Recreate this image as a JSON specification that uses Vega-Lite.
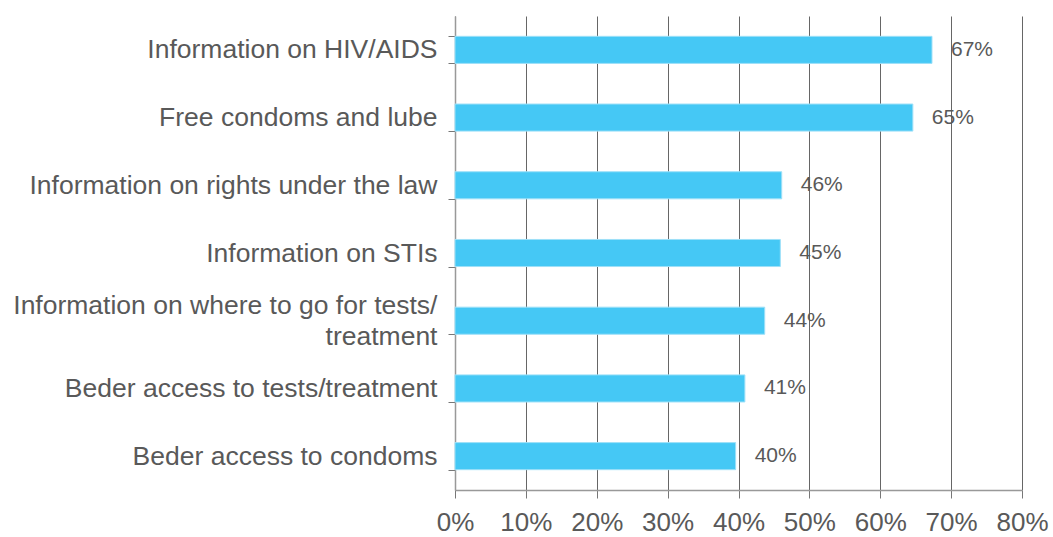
{
  "$schema": "https://vega.github.io/schema/vega-lite/v6.json",
  "width": 567,
  "height": 474,
  "autosize": {"type": "none"},
  "padding": {"left": 455, "top": 16, "right": 31, "bottom": 47},
  "background": "white",
  "config": {"view": {"stroke": null}, "font": "Liberation Sans"},
  "data": {
    "values": [
      {"item": "Information on HIV/AIDS", "value": 67.3, "label": "67%"},
      {"item": "Free condoms and lube", "value": 64.6, "label": "65%"},
      {"item": "Information on rights under the law", "value": 46.1, "label": "46%"},
      {"item": "Information on STIs", "value": 45.9, "label": "45%"},
      {"item": "Information on where to go for tests/treatment", "value": 43.7, "label": "44%"},
      {"item": "Beder access to tests/treatment", "value": 40.9, "label": "41%"},
      {"item": "Beder access to condoms", "value": 39.6, "label": "40%"}
    ]
  },
  "encoding": {
    "y": {
      "field": "item",
      "type": "nominal",
      "sort": null,
      "title": null,
      "scale": {"paddingInner": 0.6, "paddingOuter": 0.3},
      "axis": {
        "domainColor": "#999999",
        "domainWidth": 1.5,
        "tickColor": "#777777",
        "tickSize": 7,
        "tickBand": "extent",
        "labelFontSize": 26.5,
        "labelColor": "#595959",
        "labelPadding": 11,
        "labelLimit": 600,
        "labelLineHeight": 31,
        "labelOffset": {"condition": {"test": "datum.value == 'Information on where to go for tests/treatment'", "value": -15.5}, "value": 0},
        "labelExpr": "datum.value == 'Information on where to go for tests/treatment' ? ['Information on where to go for tests/', 'treatment'] : datum.label",
        "grid": false
      }
    },
    "x": {
      "field": "value",
      "type": "quantitative",
      "title": null,
      "scale": {"domain": [0, 80], "nice": false},
      "axis": {
        "values": [0, 10, 20, 30, 40, 50, 60, 70, 80],
        "labelExpr": "datum.value + '%'",
        "grid": true,
        "gridColor": "#666666",
        "gridWidth": 1,
        "domainColor": "#999999",
        "domainWidth": 1.5,
        "tickColor": "#777777",
        "tickSize": 8,
        "labelFontSize": 26,
        "labelColor": "#595959",
        "labelPadding": 11,
        "labelFlush": false
      }
    }
  },
  "layer": [
    {
      "mark": {"type": "bar", "color": "#45C8F5", "stroke": "#9EE0F8", "strokeWidth": 1}
    },
    {
      "mark": {"type": "text", "align": "left", "baseline": "middle", "dx": 19, "fontSize": 21, "color": "#595959"},
      "encoding": {"text": {"field": "label"}}
    }
  ]
}
